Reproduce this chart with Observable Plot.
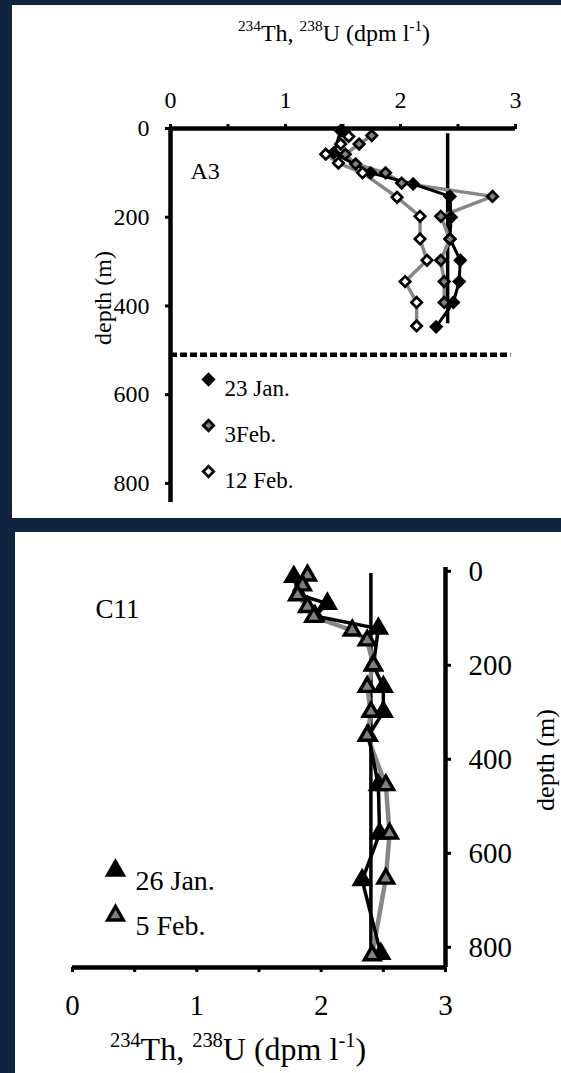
<!DOCTYPE html>
<html><head><meta charset="utf-8">
<script src="https://cdn.jsdelivr.net/npm/d3@7"></script>
<script src="https://cdn.jsdelivr.net/npm/@observablehq/plot@0.6"></script>
<style>
html,body{margin:0;padding:0;background:#11243f;}
body{width:561px;height:1073px;position:relative;overflow:hidden;}
.panel{position:absolute;background:#fff;}
.panel svg{display:block;overflow:visible;}
</style></head><body>
<div id="a3" class="panel" style="left:12px;top:5px;width:549px;height:513px"></div>
<div id="c11" class="panel" style="left:15px;top:532px;width:546px;height:541px"></div>
<script>
// ---------- data ----------
const xTicks = [0, 0.5, 1, 1.5, 2, 2.5, 3];
const depthTicks = [0, 200, 400, 600, 800];

// Station A3 (234Th, dpm/l vs depth, m)
const a3Jan23Th    = [1.48, 1.42, 1.74, 2.11, 2.43, 2.44, 2.43, 2.52, 2.51, 2.46, 2.31];
const a3Jan23Depth = [5, 55, 100, 125, 153, 200, 249, 297, 345, 392, 447];
const a3Feb3Th     = [1.75, 1.64, 1.52, 1.61, 1.87, 2.01, 2.80, 2.35, 2.43, 2.35, 2.38, 2.38];
const a3Feb3Depth  = [16, 35, 58, 80, 100, 123, 153, 198, 249, 297, 345, 392];
const a3Feb12Th    = [1.55, 1.48, 1.35, 1.46, 1.67, 1.97, 2.17, 2.17, 2.23, 2.04, 2.14, 2.14];
const a3Feb12Depth = [18, 35, 58, 78, 100, 155, 198, 249, 297, 345, 392, 445];
const a3U = 2.41;                 // 238U
const a3UDepth = [12, 440];
const a3Dashed = 510;             // dashed horizontal line depth
const a3Labels = ["23 Jan.", "3Feb.", "12 Feb."];

// Station C11
const c11Jan26Th    = [1.78, 1.82, 2.05, 1.95, 2.46, 2.42, 2.50, 2.50, 2.38, 2.46, 2.47, 2.33, 2.48];
const c11Jan26Depth = [12, 50, 69, 95, 122, 200, 246, 299, 350, 455, 558, 657, 814];
const c11Feb5Th     = [1.89, 1.85, 1.81, 1.89, 1.94, 2.25, 2.37, 2.42, 2.37, 2.40, 2.37, 2.52, 2.55, 2.52, 2.41];
const c11Feb5Depth  = [9, 30, 51, 76, 97, 126, 147, 200, 246, 299, 350, 455, 558, 654, 817];
const c11U = 2.40;
const c11UDepth = [5, 812];
const c11Labels = ["26 Jan.", "5 Feb."];

const xLabelParts = [["234", true], ["Th, ", false], ["238", true], ["U (dpm l", false], ["-1", true], [")", false]];
const depthLabel = "depth (m)";

// ---------- style ----------
const FONT = "'Liberation Serif','Times New Roman',serif";
const GRAY = "#878787";
const rows = (xs, ds) => xs.map((v, i) => ({th: v, depth: ds[i]}));
const intLabel = d => Number.isInteger(d) ? String(d) : "";

function addTitle(svg, cx, baseline, size) {
  const t = d3.select(svg).append("text")
    .attr("x", cx).attr("y", baseline).attr("text-anchor", "middle")
    .attr("font-family", FONT).attr("font-size", size).attr("fill", "#000");
  const sup = size * 0.4;
  let up = false;
  xLabelParts.forEach(([s, isSup]) => {
    const ts = t.append("tspan").text(s);
    if (isSup) { ts.attr("font-size", size * 0.64); if (!up) ts.attr("dy", -sup); up = true; }
    else { if (up) ts.attr("dy", sup); up = false; }
  });
}
function addRotated(svg, cx, cy, size, str) {
  d3.select(svg).append("text")
    .attr("transform", `translate(${cx},${cy}) rotate(-90)`)
    .attr("text-anchor", "middle").attr("dy", "0.32em")
    .attr("font-family", FONT).attr("font-size", size).attr("fill", "#000")
    .text(str);
}

// ---------- panel A3 ----------
const diamond = (data, fill) => Plot.dot(data, {x: "th", y: "depth", symbol: "diamond2", r: 4.7, fill, stroke: "#000", strokeWidth: 2.7});
const a3Legend = [];
const a3Fills = ["#000", "#808080", "#fff"];
a3Labels.forEach((lab, i) => {
  a3Legend.push(Plot.dot([lab], {frameAnchor: "top-left", dx: 38, dy: 251 + i * 46, symbol: "diamond2", r: 4.7, fill: a3Fills[i], stroke: "#000", strokeWidth: 2.7}));
  a3Legend.push(Plot.text([lab], {frameAnchor: "top-left", dx: 54, dy: 251 + i * 46, text: d => d, textAnchor: "start", fontSize: 23}));
});

const a3 = Plot.plot({
  width: 549, height: 513, marginLeft: 158, marginRight: 46, marginTop: 123, marginBottom: 16,
  x: {domain: [0, 3]},
  y: {domain: [0, 843], reverse: true},
  style: {fontFamily: FONT, fontSize: "24px", color: "#000", background: "transparent"},
  marks: [
    Plot.axisX({anchor: "top", ticks: xTicks, tickFormat: intLabel, tickSize: 5, tickPadding: 16, strokeWidth: 3, fontSize: 24, label: null}),
    Plot.axisY({anchor: "left", ticks: depthTicks, tickSize: 5, tickPadding: 16, strokeWidth: 3, fontSize: 24, label: null}),
    Plot.ruleY([0], {x1: 0, x2: 3, stroke: "#000", strokeWidth: 4.5}),
    Plot.ruleX([0], {y1: 0, y2: 843, stroke: "#000", strokeWidth: 4.5}),
    Plot.ruleY([a3Dashed], {x1: 0, x2: 2.96, stroke: "#000", strokeWidth: 4.5, strokeDasharray: "7,3"}),
    Plot.ruleX([a3U], {y1: a3UDepth[0], y2: a3UDepth[1], stroke: "#000", strokeWidth: 3.5}),
    Plot.line(rows(a3Feb12Th, a3Feb12Depth), {x: "th", y: "depth", stroke: GRAY, strokeWidth: 3.5}),
    Plot.line(rows(a3Feb3Th, a3Feb3Depth), {x: "th", y: "depth", stroke: GRAY, strokeWidth: 3.5}),
    Plot.line(rows(a3Jan23Th, a3Jan23Depth), {x: "th", y: "depth", stroke: "#000", strokeWidth: 3}),
    diamond(rows(a3Jan23Th, a3Jan23Depth), "#000"),
    diamond(rows(a3Feb3Th, a3Feb3Depth), "#808080"),
    diamond(rows(a3Feb12Th, a3Feb12Depth), "#fff"),
    Plot.text(["A3"], {frameAnchor: "top-left", dx: 20, dy: 33, text: d => d, textAnchor: "start", fontSize: 24}),
    ...a3Legend
  ]
});
addTitle(a3, 322, 36, 24);
addRotated(a3, 91, 293, 24, depthLabel);
document.getElementById("a3").append(a3);

// ---------- panel C11 ----------
const tri = (data, fill) => Plot.dot(data, {x: "th", y: "depth", symbol: "triangle", r: 5.8, fill, stroke: "#000", strokeWidth: 3.4});
const c11Legend = [];
const c11Fills = ["#000", "#808080"];
c11Labels.forEach((lab, i) => {
  c11Legend.push(Plot.dot([lab], {frameAnchor: "top-left", dx: 43, dy: 303 + i * 45, symbol: "triangle", r: 5.8, fill: c11Fills[i], stroke: "#000", strokeWidth: 3.4}));
  c11Legend.push(Plot.text([lab], {frameAnchor: "top-left", dx: 63, dy: 303 + i * 45, text: d => d, textAnchor: "start", fontSize: 28}));
});

const c11 = Plot.plot({
  width: 546, height: 541, marginLeft: 57, marginRight: 116, marginTop: 35, marginBottom: 106,
  x: {domain: [0, 3]},
  y: {domain: [-8, 843], reverse: true},
  style: {fontFamily: FONT, fontSize: "28px", color: "#000", background: "transparent"},
  marks: [
    Plot.axisX({anchor: "bottom", ticks: xTicks, tickFormat: intLabel, tickSize: 5, tickPadding: 22, strokeWidth: 3, fontSize: 29, label: null}),
    Plot.axisY({anchor: "right", ticks: depthTicks, tickSize: 5, tickPadding: 18, strokeWidth: 3, fontSize: 29, label: null}),
    Plot.ruleY([843], {x1: 0, x2: 3, stroke: "#000", strokeWidth: 4.5}),
    Plot.ruleX([3], {y1: -8, y2: 843, stroke: "#000", strokeWidth: 4.5}),
    Plot.ruleX([c11U], {y1: c11UDepth[0], y2: c11UDepth[1], stroke: "#000", strokeWidth: 3.5}),
    Plot.line(rows(c11Feb5Th, c11Feb5Depth), {x: "th", y: "depth", stroke: GRAY, strokeWidth: 4.5}),
    Plot.line(rows(c11Jan26Th, c11Jan26Depth), {x: "th", y: "depth", stroke: "#000", strokeWidth: 3.5}),
    tri(rows(c11Jan26Th, c11Jan26Depth), "#000"),
    tri(rows(c11Feb5Th, c11Feb5Depth), "#808080"),
    Plot.text(["C11"], {frameAnchor: "top-left", dx: 23, dy: 31, text: d => d, textAnchor: "start", fontSize: 27}),
    ...c11Legend
  ]
});
addTitle(c11, 223, 528, 32);
addRotated(c11, 531, 228, 26, depthLabel);
document.getElementById("c11").append(c11);
</script></body></html>
